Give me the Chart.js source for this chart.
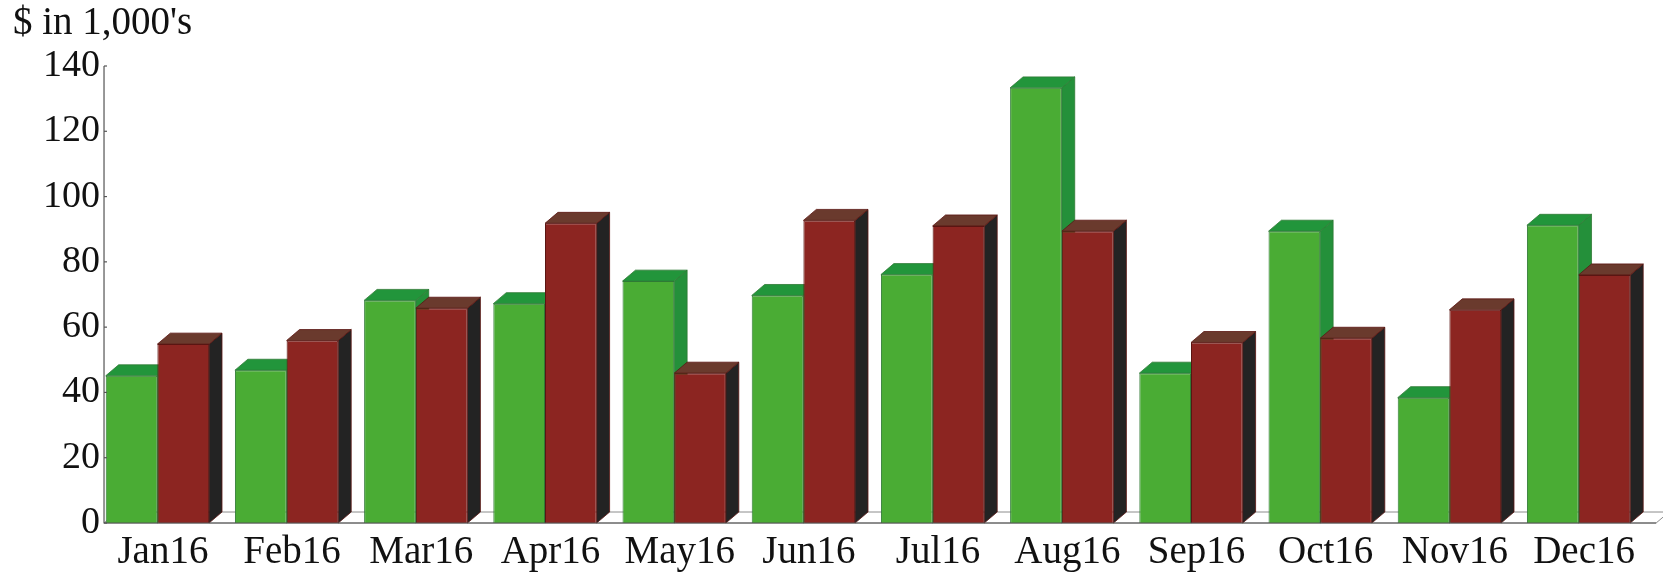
<!DOCTYPE html>
<html>
<head>
<meta charset="utf-8">
<script src="https://cdn.jsdelivr.net/npm/chart.js@4/dist/chart.umd.min.js"></script>
<style>
    html, body {margin: 0; padding: 0; background: #fff;}
    .chart_wrap {position: relative; width: 1663px; height: 574px;}
</style>
</head>
<body>
<div class="chart_wrap"><canvas id="chartBar"></canvas></div>
<script>
//data
const categories = ['Jan16','Feb16','Mar16','Apr16','May16','Jun16','Jul16','Aug16','Sep16','Oct16','Nov16','Dec16'];
const seriesGreen = [45.1, 46.8, 68.2, 67.2, 74.1, 69.7, 76.1, 133.3, 45.9, 89.4, 38.4, 91.2];
const seriesRed = [54.8, 55.9, 65.8, 91.8, 45.9, 92.7, 91.0, 89.4, 55.3, 56.6, 65.3, 76.0];
const yTicks = [0, 20, 40, 60, 80, 100, 120, 140];
const yTitle = "$ in 1,000's";

//colors
const faces = [
    {front: '#4aac34', top: '#22953b', side: '#24903a', edge: '#2f7a35'},
    {front: '#8c2521', top: '#6a3a2d', side: '#232323', edge: '#5a1512'}
];
const serif = '"Liberation Serif", "Times New Roman", serif';

//chart - 3d bars
const ctxBar = document.getElementById('chartBar').getContext('2d');

const depthPlugin = {
    id: 'depth3d',
    beforeDatasetsDraw(chart) {
        const {ctx, chartArea, scales: {y}} = chart;
        const first = chart.getDatasetMeta(0).data[0];
        const dx = first.width * 0.25;
        const dy = dx * 0.85;
        const base = y.getPixelForValue(0);
        const left = first.x - first.width / 2 - 1.7;
        const right = chartArea.right + dx;

        ctx.save();
        //floor
        ctx.beginPath();
        ctx.moveTo(left, base);
        ctx.lineTo(right, base);
        ctx.lineTo(right + dx, base - dy);
        ctx.lineTo(left + dx, base - dy);
        ctx.closePath();
        ctx.fillStyle = '#fff';
        ctx.fill();
        ctx.strokeStyle = '#8c8c8c';
        ctx.lineWidth = 1;
        ctx.stroke();

        //side and top faces
        categories.forEach((c, i) => {
            faces.forEach((f, d) => {
                const bar = chart.getDatasetMeta(d).data[i];
                const l = bar.x - bar.width / 2;
                const r = bar.x + bar.width / 2;
                const t = bar.y;
                const b = bar.base;
                ctx.lineWidth = 0.8;
                ctx.strokeStyle = f.edge;

                ctx.beginPath();
                ctx.moveTo(r, t);
                ctx.lineTo(r + dx, t - dy);
                ctx.lineTo(r + dx, b - dy);
                ctx.lineTo(r, b);
                ctx.closePath();
                ctx.fillStyle = f.side;
                ctx.fill();
                ctx.stroke();

                ctx.beginPath();
                ctx.moveTo(l, t);
                ctx.lineTo(r, t);
                ctx.lineTo(r + dx, t - dy);
                ctx.lineTo(l + dx, t - dy);
                ctx.closePath();
                ctx.fillStyle = f.top;
                ctx.fill();
                ctx.stroke();
            });
        });
        ctx.restore();
    },
    afterDatasetsDraw(chart) {
        const {ctx, chartArea, scales: {y}} = chart;
        const first = chart.getDatasetMeta(0).data[0];
        const dx = first.width * 0.25;
        const base = y.getPixelForValue(0);
        const left = first.x - first.width / 2 - 1.7;

        ctx.save();
        ctx.strokeStyle = '#555';
        ctx.lineWidth = 1.2;
        ctx.beginPath();
        ctx.moveTo(left, y.getPixelForValue(yTicks[yTicks.length - 1]));
        ctx.lineTo(left, base);
        ctx.lineTo(chartArea.right + dx, base);
        ctx.stroke();
        yTicks.forEach(v => {
            const py = y.getPixelForValue(v);
            ctx.beginPath();
            ctx.moveTo(left, py);
            ctx.lineTo(left + 3, py);
            ctx.stroke();
        });
        ctx.restore();
    }
};

new Chart(ctxBar, {
    type: 'bar',
    data: {
        labels: categories,
        datasets: [
            {
                data: seriesGreen,
                backgroundColor: faces[0].front,
                borderColor: faces[0].edge,
                borderWidth: 1,
                categoryPercentage: 0.8,
                barPercentage: 1
            },
            {
                data: seriesRed,
                backgroundColor: faces[1].front,
                borderColor: faces[1].edge,
                borderWidth: 1,
                categoryPercentage: 0.8,
                barPercentage: 1
            }
        ]
    },
    options: {
        animation: false,
        responsive: true,
        maintainAspectRatio: false,
        devicePixelRatio: 1,
        layout: {
            padding: {left: 13, right: 19.8, top: 0, bottom: 0}
        },
        plugins: {
            legend: {display: false},
            tooltip: {enabled: false},
            title: {
                display: true,
                text: yTitle,
                align: 'start',
                color: '#111',
                font: {family: serif, size: 39, weight: 'normal'},
                padding: {top: 0, bottom: 19.2}
            }
        },
        scales: {
            x: {
                grid: {display: false},
                border: {display: false},
                ticks: {
                    color: '#111',
                    padding: -2,
                    labelOffset: 5.5,
                    maxRotation: 0,
                    autoSkip: false,
                    font: {family: serif, size: 39}
                },
                afterFit(scale) { scale.height = 51; }
            },
            y: {
                min: 0,
                max: 140,
                afterBuildTicks(scale) { scale.ticks = yTicks.map(v => ({value: v})); },
                grid: {display: false, drawTicks: false},
                border: {display: false},
                ticks: {
                    color: '#111',
                    mirror: true,
                    crossAlign: 'far',
                    padding: -49.8,
                    font: {family: serif, size: 38}
                },
                afterFit(scale) { scale.width = 79.8; }
            }
        }
    },
    plugins: [depthPlugin]
});
</script>
</body>
</html>
